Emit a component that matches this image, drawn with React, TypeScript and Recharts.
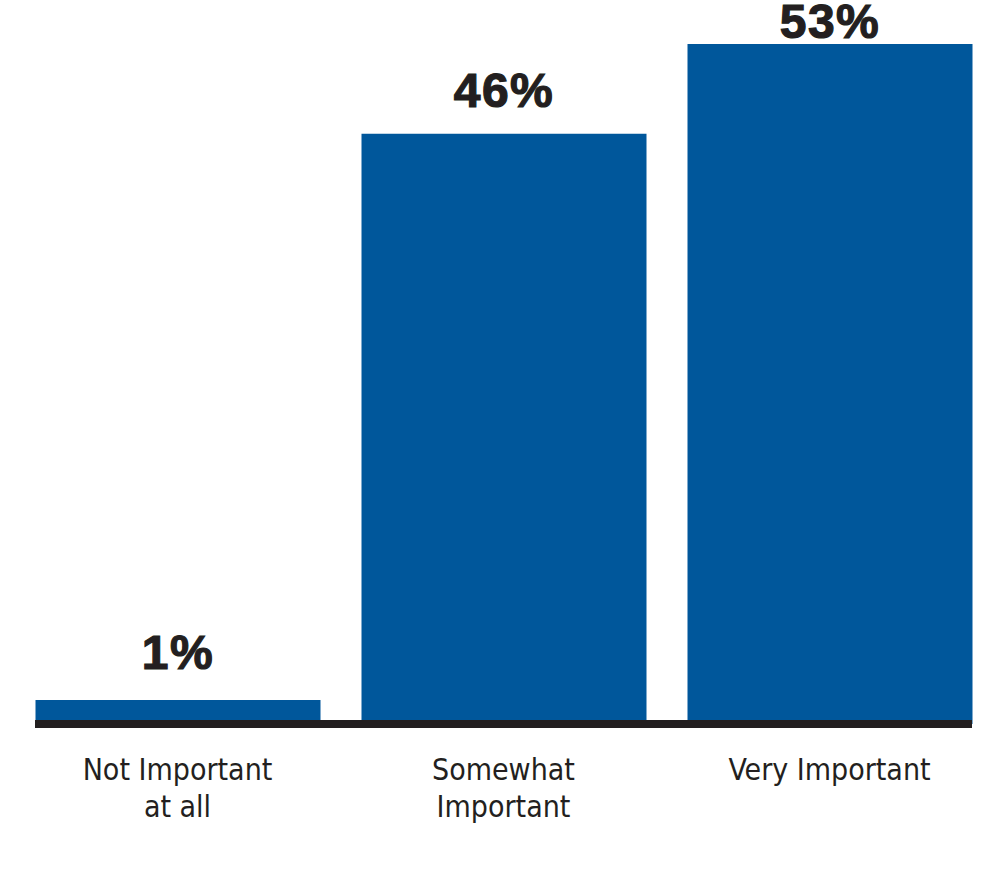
import { BarChart, Bar, XAxis, YAxis, LabelList } from "recharts";

const CATEGORIES = ["Not Important\nat all", "Somewhat\nImportant", "Very Important"];
const SHARES = [1, 46, 53];
const SHARE_LABELS = ["1%", "46%", "53%"];

// how far each value label sits above its bar (px)
const LABEL_GAPS = [31, 27, 6];

const data = CATEGORIES.map((name, i) => ({
  name,
  share: SHARES[i],
  label: SHARE_LABELS[i],
}));

const BAR_COLOR = "#00579b";
const INK = "#231f20";

const CategoryTick = (props: any) => {
  const { x, y, payload } = props;
  const lines = String(payload.value).split("\n");
  return (
    <text
      x={x}
      y={y}
      textAnchor="middle"
      fill={INK}
      fontFamily="'DejaVu Sans Condensed', 'DejaVu Sans', sans-serif"
      fontStretch="condensed"
      fontSize={30}
    >
      {lines.map((line, i) => (
        <tspan key={i} x={x} y={y + 48 + i * 37}>
          {line}
        </tspan>
      ))}
    </text>
  );
};

const ValueLabel = (props: any) => {
  const { x, y, width, index, value } = props;
  return (
    <text
      x={x + width / 2}
      y={y - LABEL_GAPS[index]}
      textAnchor="middle"
      fill={INK}
      stroke={INK}
      strokeWidth={1.2}
      fontFamily="'Liberation Sans', Arial, sans-serif"
      fontWeight={900}
      fontSize={48}
      letterSpacing={1.5}
    >
      {value}
    </text>
  );
};

export default function App() {
  return (
    <div style={{ position: "absolute", left: 0, top: 0, background: "#fff" }}>
      <BarChart
        width={1007}
        height={896}
        data={data}
        margin={{ top: 44, right: 35, bottom: 72, left: 35 }}
      >
        <YAxis hide domain={[0, 53]} />
        <Bar
          dataKey="share"
          fill={BAR_COLOR}
          barSize={285}
          minPointSize={24}
          isAnimationActive={false}
        >
          <LabelList dataKey="label" content={<ValueLabel />} />
        </Bar>
        <XAxis
          dataKey="name"
          height={100}
          padding={{ left: -20.5, right: -20.5 }}
          tickLine={false}
          axisLine={{ stroke: INK, strokeWidth: 8 }}
          tick={<CategoryTick />}
          interval={0}
        />
      </BarChart>
    </div>
  );
}
